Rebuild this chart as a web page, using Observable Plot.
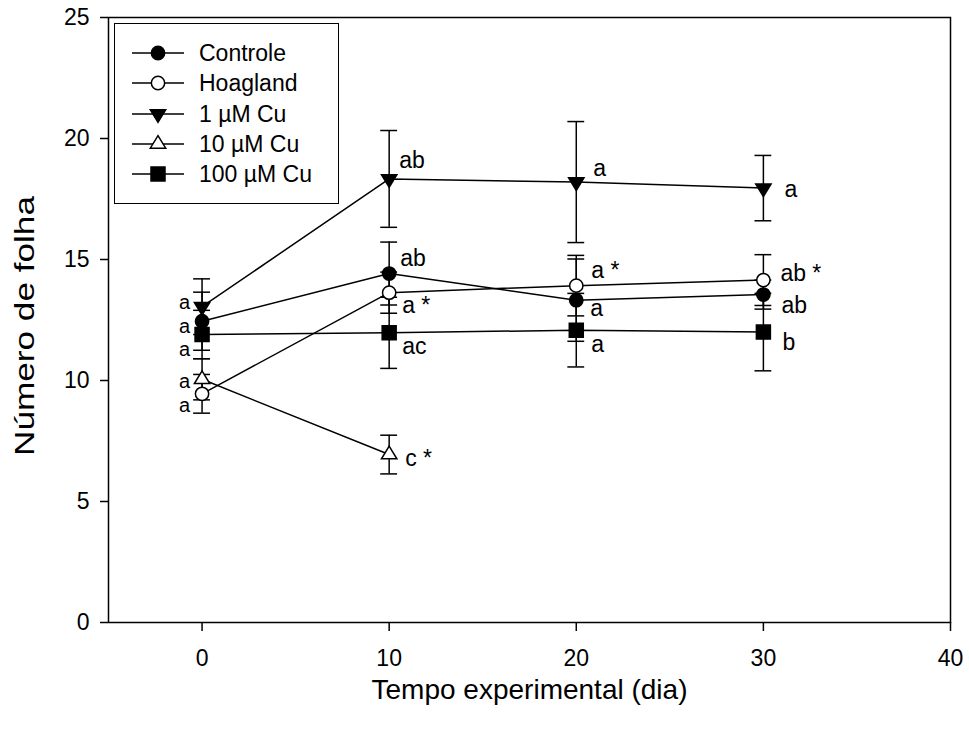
<!DOCTYPE html>
<html>
<head>
<meta charset="utf-8">
<script src="https://cdn.jsdelivr.net/npm/d3@7"></script>
<script src="https://cdn.jsdelivr.net/npm/@observablehq/plot@0.6"></script>
<style>
  html, body { margin: 0; padding: 0; background: #fff; }
  #wrap { position: relative; width: 969px; height: 731px; font-family: "Liberation Sans", Arial, sans-serif; }
  #legend { position: absolute; left: 114px; top: 23px; width: 225px; height: 181px; box-sizing: border-box; border: 1.5px solid #000; background: #fff; }
</style>
</head>
<body>
<div id="wrap"><div id="chart"></div><div id="legend"></div></div>
<script>
// ---- Data ----
const days = [0, 10, 20, 30];
const seriesNames = ["Controle", "Hoagland", "1 µM Cu", "10 µM Cu", "100 µM Cu"];

const controleMean = [12.45, 14.42, 13.32, 13.55];
const controleErr  = [1.2, 1.3, 1.7, 0.6];
const hoaglandMean = [9.45, 13.63, 13.92, 14.15];
const hoaglandErr  = [0.8, 0.85, 1.25, 1.05];
const cu1Mean      = [13.05, 18.33, 18.2, 17.95];
const cu1Err       = [1.15, 2.0, 2.5, 1.35];
const cu10Mean     = [10.05, 6.94, null, null];
const cu10Err      = [0.85, 0.8, null, null];
const cu100Mean    = [11.9, 11.97, 12.08, 12.0];
const cu100Err     = [1.0, 1.47, 1.52, 1.6];

const controleLabels = ["a", "ab", "a", "ab"];
const hoaglandLabels = ["a", "a *", "a *", "ab *"];
const cu1Labels      = ["a", "ab", "a", "a"];
const cu10Labels     = ["a", "c *", null, null];
const cu100Labels    = ["a", "ac", "a", "b"];

const xTicks = [0, 10, 20, 30, 40];
const yTicks = [0, 5, 10, 15, 20, 25];
const xTitle = "Tempo experimental (dia)";
const yTitle = "Número de folha";

// ---- Build table ----
const means = [controleMean, hoaglandMean, cu1Mean, cu10Mean, cu100Mean];
const errs = [controleErr, hoaglandErr, cu1Err, cu10Err, cu100Err];
const labs = [controleLabels, hoaglandLabels, cu1Labels, cu10Labels, cu100Labels];
const rows = [];
seriesNames.forEach((s, i) => days.forEach((d, j) => {
  if (means[i][j] == null) return;
  rows.push({series: s, si: i, di: j, day: d, mean: means[i][j], lo: means[i][j] - errs[i][j], hi: means[i][j] + errs[i][j], label: labs[i][j]});
}));

// ---- Symbols (styling) ----
const rad = size => Math.sqrt(size / Math.PI);
const symCircle = {draw(c, size) { const r = rad(size) * 0.95; c.moveTo(r, 0); c.arc(0, 0, r, 0, 2 * Math.PI); c.closePath(); }};
const symSquare = {draw(c, size) { const r = rad(size); c.rect(-r, -r, 2 * r, 2 * r); }};
const symTriDown = {draw(c, size) { const r = rad(size); c.moveTo(-1.1 * r, -0.6 * r); c.lineTo(1.1 * r, -0.6 * r); c.lineTo(0, 1.2 * r); c.closePath(); }};
const symTriUp = {draw(c, size) { const r = rad(size); c.moveTo(-1.1 * r, 0.6 * r); c.lineTo(1.1 * r, 0.6 * r); c.lineTo(0, -1.2 * r); c.closePath(); }};
const styles = [
  {symbol: symCircle, fill: "black"},
  {symbol: symCircle, fill: "white"},
  {symbol: symTriDown, fill: "black"},
  {symbol: symTriUp, fill: "white"},
  {symbol: symSquare, fill: "black"}
];
const R = 7;

// label pixel offsets [dx, dy] per series per day (styling)
const labelOffsets = [
  [[-12, 5], [11, -15], [14, 8], [18, 11]],
  [[-12, 12], [13, 13], [15, -15], [17, -6]],
  [[-12, -4], [10, -18], [17, -13], [21, 2]],
  [[-12, 2], [16, 4]],
  [[-12, 15], [13, 14], [15, 14], [19, 11]]
];

const font = "Liberation Sans, Arial, sans-serif";
const marks = [
  Plot.frame({stroke: "black", strokeWidth: 1.5}),
  Plot.axisX({ticks: xTicks, tickSize: 9, tickPadding: 18, fontSize: 23, label: null, strokeWidth: 1.5}),
  Plot.axisY({ticks: yTicks, tickSize: 8, tickPadding: 11, fontSize: 23, label: null, strokeWidth: 1.5}),
  Plot.line(rows, {x: "day", y: "mean", z: "series", stroke: "black", strokeWidth: 1.5}),
  Plot.ruleX(rows, {x: "day", y1: "lo", y2: "hi", stroke: "black", strokeWidth: 1.5}),
  Plot.ruleY(rows, {y: "lo", x1: d => d.day - 0.45, x2: d => d.day + 0.45, stroke: "black", strokeWidth: 1.5}),
  Plot.ruleY(rows, {y: "hi", x1: d => d.day - 0.45, x2: d => d.day + 0.45, stroke: "black", strokeWidth: 1.5})
];
seriesNames.forEach((s, i) => {
  marks.push(Plot.dot(rows.filter(r => r.si === i), {x: "day", y: "mean", r: R, symbol: styles[i].symbol, fill: styles[i].fill, stroke: "black", strokeWidth: 1.5}));
});
rows.forEach(r => {
  if (!r.label) return;
  const [dx, dy] = labelOffsets[r.si][r.di];
  marks.push(Plot.text([r], {x: "day", y: "mean", text: "label", dx, dy, textAnchor: r.di === 0 ? "end" : "start", fontSize: r.di === 0 ? 20 : 23, fill: "black"}));
});
marks.push(Plot.text([xTitle], {frameAnchor: "bottom", dy: 76, fontSize: 28, fill: "black", className: "xtitle"}));
marks.push(Plot.text([yTitle], {frameAnchor: "left", dx: -83, dy: 136, rotate: -90, textAnchor: "start", fontSize: 27, fill: "black", className: "ytitle"}));

const chart = Plot.plot({
  width: 969, height: 731,
  marginLeft: 108, marginRight: 19, marginTop: 17, marginBottom: 109,
  style: {fontFamily: font, fontSize: "23px", background: "white", color: "black", overflow: "visible"},
  x: {domain: [-5, 40]},
  y: {domain: [0, 25]},
  marks
});
document.getElementById("chart").appendChild(chart);
// make sure tick labels use the larger size
d3.select(chart).selectAll("g[aria-label='x-axis tick label'], g[aria-label='y-axis tick label']").attr("font-size", 23);
// stretched y title glyphs as in the source figure
d3.select(chart).selectAll("g.ytitle text").attr("textLength", 260).attr("lengthAdjust", "spacingAndGlyphs");

// ---- Legend ----
const lsvg = d3.select("#legend").append("svg").attr("width", 222).attr("height", 178).style("display", "block");
const rowY = [29, 59, 90, 120, 150];
seriesNames.forEach((s, i) => {
  const g = lsvg.append("g").attr("transform", `translate(0,${rowY[i]})`);
  g.append("line").attr("x1", 17).attr("x2", 69).attr("stroke", "black").attr("stroke-width", 1.5);
  g.append("path").attr("transform", "translate(43,0)")
    .attr("d", d3.symbol(styles[i].symbol, Math.PI * R * R)())
    .attr("fill", styles[i].fill).attr("stroke", "black").attr("stroke-width", 1.5);
  g.append("text").attr("x", 84).attr("dy", "0.35em").attr("font-size", 23).attr("font-family", font).text(s);
});
</script>
</body>
</html>
